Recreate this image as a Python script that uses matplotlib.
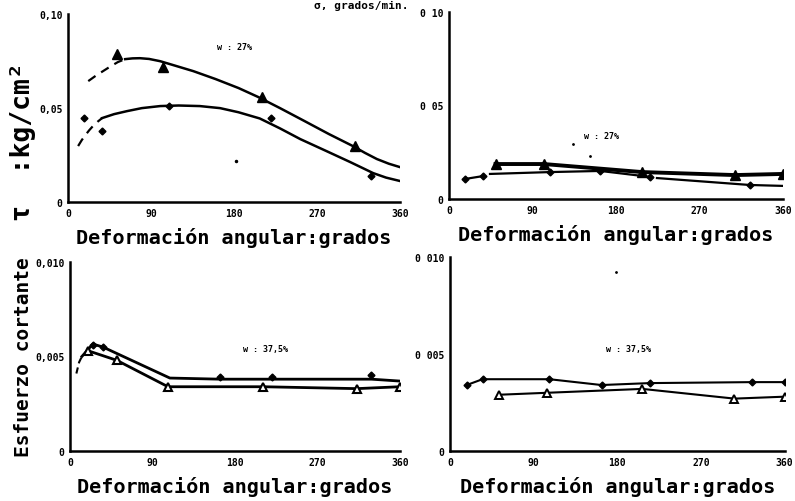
import matplotlib
matplotlib.use("Agg")
import matplotlib.pyplot as plt
import numpy as np

plt.rcParams['font.family'] = ['DejaVu Sans Mono']

# ---- Panel superior izquierdo (w = 27 %) ----
tl_tri_x = [53, 103, 210, 311]
tl_tri_y = [0.0787, 0.0718, 0.0558, 0.030]
tl_dia_x = [17, 37, 110, 220, 329]
tl_dia_y = [0.0447, 0.038, 0.051, 0.0447, 0.0139]
# curva superior
tl_up_dash_x = [22, 30, 38, 46, 54, 62]
tl_up_dash_y = [0.0644, 0.0672, 0.0697, 0.0722, 0.0745, 0.0761]
tl_up_x = [62, 70, 78, 88, 100, 115, 136, 160, 185, 206, 230, 257, 283, 309, 322, 335, 348, 360]
tl_up_y = [0.0761, 0.0765, 0.0766, 0.0762, 0.0750, 0.0728, 0.0697, 0.0655, 0.0607,
           0.0560, 0.0500, 0.0430, 0.0362, 0.0298, 0.0262, 0.0229, 0.0204, 0.0186]
# curva inferior
tl_lo_dash_x = [11, 15, 19, 23, 27, 32, 37]
tl_lo_dash_y = [0.0298, 0.0330, 0.0357, 0.0382, 0.0404, 0.0427, 0.0447]
tl_lo_x = [37, 50, 64, 80, 100, 120, 143, 165, 185, 208, 230, 252, 280, 306, 320, 331, 345, 360]
tl_lo_y = [0.0447, 0.0468, 0.0484, 0.0500, 0.0511, 0.0514, 0.0511, 0.0500, 0.0478,
           0.0445, 0.0392, 0.0335, 0.0272, 0.0213, 0.0180, 0.0154, 0.0130, 0.0112]

# ---- Panel superior derecho (w = 27 %) ----
tr_tri_x = [50, 102, 208, 308, 360]
tr_tri_y = [0.0187, 0.0187, 0.0144, 0.0128, 0.0134]
tr_dia_x = [17, 37, np.nan, 44, 109, 163, 217, np.nan, 224, 324, 360]
tr_dia_y = [0.0107, 0.0123, np.nan, 0.0134, 0.0144, 0.0150, 0.0118, np.nan, 0.0112, 0.0075, 0.0070]
tr_dia_mx = [17, 37, 109, 163, 217, 324]
tr_dia_my = [0.0107, 0.0123, 0.0144, 0.0150, 0.0118, 0.0075]

# ---- Panel inferior izquierdo (w = 37,5 %) ----
bl_up_x = [13, 25, 36, 109, 164, 221, 329, 360]
bl_up_y = [0.0050, 0.00566, 0.0055, 0.00386, 0.0038, 0.0038, 0.0038, 0.0037]
bl_up_mx = [25, 36, 164, 221, 329]
bl_up_my = [0.0056, 0.0055, 0.0039, 0.0039, 0.0040]
bl_lo_x = [20, 51, 107, 211, 313, 360]
bl_lo_y = [0.0053, 0.0048, 0.0034, 0.0034, 0.0033, 0.0034]
bl_dash_x = [7, 10, 14]
bl_dash_y = [0.0041, 0.0047, 0.0051]

# ---- Panel inferior derecho (w = 37,5 %) ----
br_up_x = [18, 35, 107, 163, 215, 325, 360]
br_up_y = [0.0034, 0.0037, 0.0037, 0.0034, 0.0035, 0.00355, 0.00355]
br_lo_x = [53, 104, 207, 306, 360]
br_lo_y = [0.0029, 0.0030, 0.0032, 0.0027, 0.0028]

xticks = [0, 90, 180, 270, 360]
xlabel = "Deformación angular:grados"

fig = plt.figure(figsize=(7.95, 5.02), dpi=100)
ax_tl = fig.add_axes([0.0855, 0.5956, 0.4175, 0.374])
ax_tr = fig.add_axes([0.565, 0.6016, 0.42, 0.3725])
ax_bl = fig.add_axes([0.088, 0.0996, 0.415, 0.3765])
ax_br = fig.add_axes([0.566, 0.0996, 0.421, 0.3865])


def base(ax, ymax, yticks, ylabels):
    ax.set_xlim(0, 360)
    ax.set_ylim(0, ymax)
    ax.set_xticks(xticks)
    ax.set_xticklabels([str(t) for t in xticks], fontsize=7, fontweight='bold')
    ax.set_yticks(yticks)
    ax.set_yticklabels(ylabels, fontsize=7, fontweight='bold')
    ax.tick_params(length=0, pad=4)
    for s in ['top', 'right']:
        ax.spines[s].set_visible(False)
    for s in ['left', 'bottom']:
        ax.spines[s].set_linewidth(1.8)
    ax.set_xlabel(xlabel, fontsize=14.5, fontweight='bold', labelpad=7)


base(ax_tl, 0.10, [0, 0.05, 0.10], ["0", "0,05", "0,10"])
base(ax_tr, 0.10, [0, 0.05, 0.10], ["0", "0 05", "0 10"])
base(ax_bl, 0.010, [0, 0.005, 0.010], ["0", "0,005", "0,010"])
base(ax_br, 0.010, [0, 0.005, 0.010], ["0", "0 005", "0 010"])

# superior izquierdo
ax_tl.plot(tl_up_dash_x, tl_up_dash_y, 'k--', lw=1.6, dashes=(4, 3))
ax_tl.plot(tl_up_x, tl_up_y, 'k-', lw=1.8)
ax_tl.plot(tl_lo_dash_x, tl_lo_dash_y, 'k--', lw=1.6, dashes=(4, 3))
ax_tl.plot(tl_lo_x, tl_lo_y, 'k-', lw=1.8)
ax_tl.plot(tl_tri_x, tl_tri_y, 'k^', ms=7, ls='none')
ax_tl.plot(tl_dia_x, tl_dia_y, 'kD', ms=3.5, ls='none')
ax_tl.plot([182], [0.0218], 'k.', ms=3)
ax_tl.text(181, 0.083, "w : 27%", fontsize=6, fontweight='bold', ha='center', va='center')

# superior derecho
ax_tr.plot(tr_tri_x, tr_tri_y, 'k-', lw=2.8, marker='^', ms=7)
ax_tr.plot(tr_dia_x, tr_dia_y, 'k-', lw=1.6)
ax_tr.plot(tr_dia_mx, tr_dia_my, 'kD', ms=3.5, ls='none')
ax_tr.plot([134, 152], [0.0294, 0.023], 'k.', ms=2)
ax_tr.text(164, 0.0337, "w : 27%", fontsize=6, fontweight='bold', ha='center', va='center')

# inferior izquierdo
ax_bl.plot(bl_dash_x, bl_dash_y, 'k--', lw=1.5, dashes=(3, 2))
ax_bl.plot(bl_up_x, bl_up_y, 'k-', lw=2.0)
ax_bl.plot(bl_up_mx, bl_up_my, 'kD', ms=3.5, ls='none')
ax_bl.plot(bl_lo_x, bl_lo_y, 'k-', lw=2.0, marker='^', ms=6, mfc='white', mew=1.5)
ax_bl.text(213, 0.0054, "w : 37,5%", fontsize=6, fontweight='bold', ha='center', va='center')

# inferior derecho
ax_br.plot(br_up_x, br_up_y, 'k-', lw=1.5, marker='D', ms=3.5)
ax_br.plot(br_lo_x, br_lo_y, 'k-', lw=1.5, marker='^', ms=6, mfc='white', mew=1.4)
ax_br.plot([179], [0.0092], 'k.', ms=2)
ax_br.text(192, 0.0053, "w : 37,5%", fontsize=6, fontweight='bold', ha='center', va='center')

fig.text(0.029, 0.289, "Esfuerzo cortante", rotation=90, fontsize=14,
         fontweight='bold', ha='center', va='center')
fig.text(0.029, 0.717, "τ  :kg/cm²", rotation=90, fontsize=19,
         fontweight='bold', ha='center', va='center')
fig.text(0.455, 0.999, "σ, grados/min.", fontsize=8, fontweight='bold',
         ha='center', va='top')

fig.savefig("out.png", dpi=100)
